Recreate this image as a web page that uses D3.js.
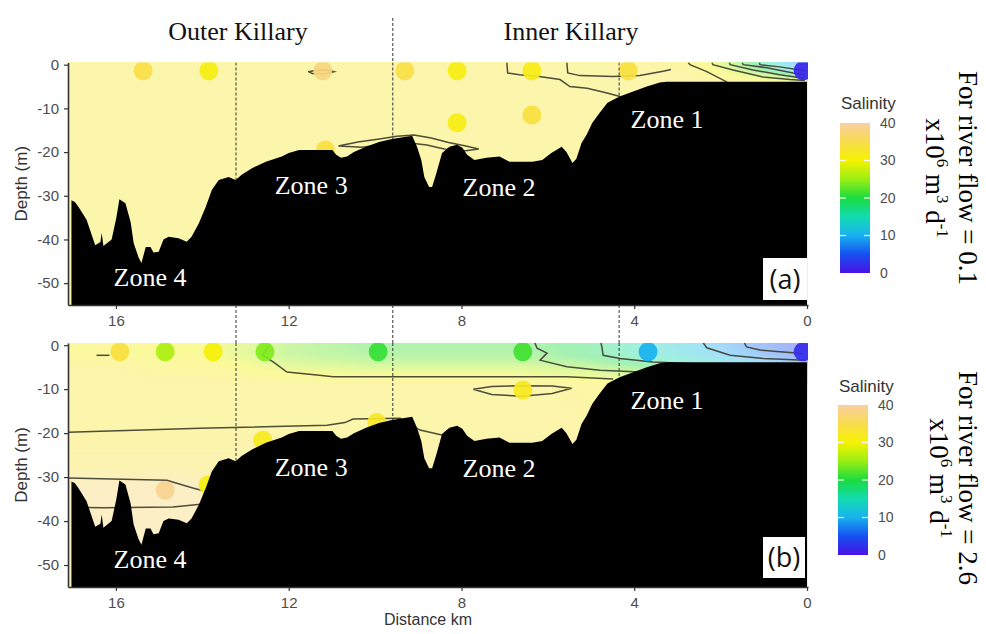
<!DOCTYPE html>
<html><head><meta charset="utf-8">
<script src="https://cdn.jsdelivr.net/npm/d3@7"></script>
<style>body{margin:0;background:#fff}svg{display:block}</style>
</head><body>
<svg id="chart" width="986" height="634"></svg>
<script>
// ================= DATA =================
const xTicks = [16, 12, 8, 4, 0];
const yTicks = [0, -10, -20, -30, -40, -50];
const legendTicks = [40, 30, 20, 10, 0];
const salinityStops  = [0, 5, 10, 15, 20, 25, 30, 35, 40];
const salinityColors = ["#4a12e6", "#1650f0", "#18b2f0", "#12dcb0", "#1adc3e", "#9aee14", "#f6f200", "#f8dc4e", "#f8d0a2"];
const zoneBoundaries = [13.22, 9.59, 4.35];
const regionNames = ["Outer Killary", "Inner Killary"];
const zoneNames = ["Zone 4", "Zone 3", "Zone 2", "Zone 1"];
const flowValues = ["0.1", "2.6"];
const panelLetters = ["(a)", "(b)"];

// bathymetry (distance km, depth m)
const bathyDist  = [17.03, 16.95, 16.87, 16.68, 16.48, 16.36, 16.33, 16.29, 16.10, 15.99, 15.92, 15.78, 15.66, 15.59, 15.48, 15.41, 15.31, 15.20, 15.13, 15.01, 14.90, 14.78, 14.55, 14.36, 14.25, 14.08, 13.92, 13.78, 13.62, 13.39, 13.23, 13.09, 12.85, 12.53, 12.16, 12.00, 11.76, 10.99, 10.90, 10.79, 10.65, 10.49, 10.21, 9.91, 9.61, 9.21, 9.14, 9.03, 8.93, 8.86, 8.75, 8.68, 8.58, 8.45, 8.28, 8.10, 7.98, 7.87, 7.70, 7.42, 7.12, 6.89, 6.36, 6.13, 5.92, 5.68, 5.57, 5.43, 5.34, 5.22, 5.10, 4.97, 4.80, 4.62, 4.34, 4.04, 3.71, 3.41, 3.25, 0.00];
const bathyDepth = [-31.0, -31.4, -32.5, -35.5, -41.3, -40.6, -38.5, -41.5, -40.0, -35.0, -30.8, -31.7, -36.0, -40.8, -44.0, -45.4, -41.7, -41.7, -43.0, -42.8, -40.0, -39.4, -39.7, -40.5, -39.4, -36.3, -32.5, -28.7, -26.4, -25.7, -26.4, -25.2, -23.7, -22.2, -21.0, -20.2, -19.5, -19.5, -20.6, -21.3, -21.0, -20.0, -18.8, -17.7, -17.0, -16.4, -16.3, -18.8, -21.8, -25.7, -28.0, -28.0, -24.8, -20.2, -18.8, -18.3, -19.0, -20.6, -21.8, -21.3, -21.0, -22.2, -22.2, -21.8, -20.2, -18.8, -20.0, -22.5, -21.5, -17.9, -16.0, -13.3, -11.0, -8.7, -7.3, -6.2, -5.0, -4.1, -3.9, -3.9];

// salinity field, panel (a)
const fieldA_dist  = [17.2, 12, 8, 4, 2.8, 2.2, 1.7, 1.2, 0.7, 0.3, 0];
const fieldA_depth = [0.5, -1, -2, -3, -4, -6, -55];
const fieldA_sal = [
  [33, 33, 33, 33, 32, 29, 24, 19, 14, 9, 5],
  [33, 33, 33, 33, 32, 30, 26, 21, 16, 11, 7],
  [33, 33, 33, 33, 33, 31, 29, 25, 21, 17, 13],
  [33, 33, 33, 33, 33, 32, 31, 29, 27, 24, 21],
  [33, 33, 33, 33, 33, 33, 32, 31, 30, 29, 28],
  [33, 33, 33, 33, 33, 33, 33, 33, 33, 33, 33],
  [33, 33, 33, 33, 33, 33, 33, 33, 33, 33, 33]
];
// salinity field, panel (b)
const fieldB_dist  = [17.2, 16, 15, 14, 13, 12, 10, 8, 6.5, 5, 4, 3, 2, 1, 0];
const fieldB_depth = [0.5, -2, -4, -6, -9, -20, -28, -32, -55];
const fieldB_sal = [
  [31, 31, 30, 30, 27, 24, 21, 21, 21, 19, 15, 12, 9, 6, 3],
  [31, 31, 30, 30, 27, 24, 22, 22, 22, 19, 16, 13, 10, 7, 4],
  [32, 32, 31, 31, 29, 26, 24, 24, 24, 22, 19, 16, 13, 10, 7],
  [33, 33, 32, 32, 31, 29, 28, 28, 28, 26, 24, 21, 18, 15, 12],
  [33, 33, 33, 33, 33, 33, 33, 33, 33, 32, 31, 30, 28, 26, 24],
  [33, 33, 33, 33, 33, 33, 33, 33, 33, 33, 33, 33, 33, 33, 33],
  [34, 34, 34, 34, 34, 34, 34, 34, 34, 34, 34, 34, 34, 34, 34],
  [37, 37, 37, 37, 37, 36, 35, 34, 34, 34, 34, 34, 34, 34, 34],
  [37, 37, 37, 37, 37, 36, 35, 34, 34, 34, 34, 34, 34, 34, 34]
];

// stations (measured salinity), panel (a)
const stationsA_dist  = [15.37, 13.85, 11.21, 9.31, 8.10, 6.37, 4.14, 0.09, 8.10, 6.37, 11.15];
const stationsA_depth = [-1.4, -1.4, -1.4, -1.4, -1.4, -1.4, -1.4, -1.4, -13.3, -11.5, -19.5];
const stationsA_sal   = [34.5, 31, 38, 34.5, 31, 31.5, 34, 1.5, 31, 34, 34];
// stations, panel (b)
const stationsB_dist  = [15.91, 14.86, 13.75, 12.55, 9.93, 6.58, 3.68, 0.09, 6.58, 9.96, 12.60, 14.86, 13.87];
const stationsB_depth = [-1.5, -1.5, -1.5, -1.5, -1.5, -1.5, -1.5, -1.5, -10.2, -17.6, -21.6, -33.0, -31.8];
const stationsB_sal   = [34, 26, 30.5, 24, 21, 21.5, 10, 2, 32, 32.5, 32, 39, 31];

// contour lines (distance km, depth m), panel (a)
const contoursA = [
  [[11.55,-1.6],[11.35,-1.25],[11.1,-1.2],[10.95,-1.6],[11.15,-2.1],[11.45,-2.0],[11.55,-1.6]],
  [[10.85,-18.6],[10.4,-17.7],[9.9,-17.0],[9.5,-16.4],[9.1,-16.1],[8.7,-16.8],[8.3,-17.8],[7.9,-18.6],[7.6,-19.3],
   [7.9,-19.7],[8.4,-19.3],[8.8,-18.4],[9.2,-17.9],[9.7,-18.1],[10.3,-18.9],[10.85,-18.6]],
  [[6.95,0.5],[6.93,-1.9],[6.66,-2.3],[6.2,-2.7],[5.72,-3.4],[5.49,-5.0],[5.09,-5.4],[4.63,-6.5],[4.33,-7.3]],
  [[5.56,0.5],[5.54,-1.9],[5.26,-2.5],[4.49,-2.7],[3.87,-2.5],[3.33,-1.5],[3.15,-1.1]],
  [[2.75,0.5],[2.71,0],[2.32,-1.6],[1.85,-4.0]],
  [[2.2,0.5],[2.18,0],[1.71,-1.2],[1.02,-2.8],[0.39,-3.4],[0.05,-3.6]],
  [[1.8,0.5],[1.78,0],[1.25,-1.2],[0.63,-2.3],[0.16,-3.0],[0.05,-3.1]],
  [[1.5,0.5],[1.48,0],[0.93,-0.7],[0.32,-1.9],[0.05,-2.3]],
  [[1.1,0.5],[1.09,0],[0.63,-0.5],[0.16,-1.2],[0.05,-1.4]]
];
// contour lines, panel (b)
const contoursB = [
  [[16.45,-2.3],[16.15,-2.3]],
  [[12.45,-0.2],[12.5,-0.7],[12.6,-2.3],[12.36,-3.8],[12.04,-6.1],[11.35,-6.8],[10.97,-7.2],[8.96,-7.2],[7.11,-7.2],[5.56,-7.2],[4.49,-7.7]],
  [[6.3,0.5],[6.25,-0.7],[6.02,-1.8],[6.18,-3.4],[5.56,-4.9],[4.79,-5.7],[3.87,-6.1]],
  [[4.77,0.5],[4.75,-0.4],[4.72,-2.3],[4.33,-3.0],[3.57,-3.8],[2.48,-4.3]],
  [[2.4,0.5],[2.32,-0.6],[1.78,-2.3],[1.01,-3.0],[0.05,-3.4]],
  [[1.45,0.5],[1.4,-0.4],[1.09,-1.1],[0.63,-1.5],[0.09,-1.9]],
  [[7.73,-10.0],[7.3,-9.4],[6.6,-9.2],[5.9,-9.3],[5.45,-9.8],[5.9,-11.0],[6.6,-11.6],[7.3,-11.2],[7.73,-10.0]],
  [[17.11,-19.8],[14.05,-18.9],[11.11,-18.2],[10.7,-17.6],[10.51,-16.8],[9.42,-16.6],[8.96,-19.3],[8.43,-20.5],[8.2,-21]],
  [[17.11,-30.2],[14.82,-30.7],[14.59,-31.4],[14.22,-32.5],[13.87,-33.4]],
  [[16.7,-36.9],[16.3,-37.0],[14.68,-36.8],[13.98,-36.1]]
];

// ================= LAYOUT =================
const svg = d3.select("#chart");
const plotX = [68, 808];
const x = d3.scaleLinear().domain([17.11, -0.023]).range(plotX);
const depthDomain = [0.5, -55];
const sansFont = "'Liberation Sans', Arial, sans-serif";
const serifFont = "'Liberation Serif', 'Times New Roman', serif";
const axisGrey = "#4d4d4d";

const color = d3.scaleLinear().domain(salinityStops).range(salinityColors)
  .interpolate(d3.interpolateRgb).clamp(true);
const fieldAlpha = 0.4;

const zoneLabelPos = [[15.21, -50.6], [11.48, -29.7], [7.13, -30.0], [3.24, -14.4]];

const panels = [
  { yRange: [62.5, 305], fd: fieldA_dist, fz: fieldA_depth, fs: fieldA_sal,
    sd: stationsA_dist, sz: stationsA_depth, ss: stationsA_sal, contours: contoursA,
    legend: { x: 840, top: 123, bottom: 273, titleY: 109 }, flowY: 178, flowX: [959, 926],
    labelBox: [763, 258, 44, 42], labelBase: 289 },
  { yRange: [343, 587], fd: fieldB_dist, fz: fieldB_depth, fs: fieldB_sal,
    sd: stationsB_dist, sz: stationsB_depth, ss: stationsB_sal, contours: contoursB,
    legend: { x: 838, top: 405, bottom: 555, titleY: 392 }, flowY: 478, flowX: [959, 930],
    labelBox: [763, 537, 42, 41], labelBase: 567 }
];

const defs = svg.append("defs");

// legend gradient (offsets ascending from top = 40 down to 0)
const grad = defs.append("linearGradient").attr("id", "salGrad")
  .attr("x1", 0).attr("y1", 0).attr("x2", 0).attr("y2", 1);
salinityStops.slice().reverse().forEach(s => {
  grad.append("stop").attr("offset", (40 - s) / 40).attr("stop-color", color(s));
});

// dashed zone boundaries (outside panels)
const dashLayer = svg.append("g");

panels.forEach((p, pi) => {
  const y = d3.scaleLinear().domain(depthDomain).range(p.yRange);
  const g = svg.append("g");
  const clipId = "clip" + pi;
  defs.append("clipPath").attr("id", clipId).append("rect")
    .attr("x", plotX[0]).attr("y", p.yRange[0])
    .attr("width", plotX[1] - plotX[0]).attr("height", p.yRange[1] - p.yRange[0]);

  // ---- salinity field raster ----
  const x0 = plotX[0], y0 = Math.floor(p.yRange[0]);
  const w = plotX[1] - plotX[0], h = Math.ceil(p.yRange[1]) - y0;
  const canvas = document.createElement("canvas");
  canvas.width = w; canvas.height = h;
  const ctx = canvas.getContext("2d");
  const img = ctx.createImageData(w, h);
  const di = d3.scaleLinear().domain(p.fd).range(d3.range(p.fd.length)).clamp(true);
  const zi = d3.scaleLinear().domain(p.fz).range(d3.range(p.fz.length)).clamp(true);
  const lut = d3.range(0, 401).map(k => d3.rgb(color(k / 10)));
  for (let py = 0; py < h; py++) {
    const zf = zi(y.invert(y0 + py + 0.5));
    const j0 = Math.floor(zf), j1 = Math.min(j0 + 1, p.fz.length - 1), u = zf - j0;
    for (let px = 0; px < w; px++) {
      const df = di(x.invert(x0 + px + 0.5));
      const i0 = Math.floor(df), i1 = Math.min(i0 + 1, p.fd.length - 1), t = df - i0;
      const top = p.fs[j0][i0] * (1 - t) + p.fs[j0][i1] * t;
      const bot = p.fs[j1][i0] * (1 - t) + p.fs[j1][i1] * t;
      const s = top * (1 - u) + bot * u;
      const c = lut[Math.max(0, Math.min(400, Math.round(s * 10)))];
      const k = (py * w + px) * 4;
      img.data[k] = 255 + fieldAlpha * (c.r - 255);
      img.data[k + 1] = 255 + fieldAlpha * (c.g - 255);
      img.data[k + 2] = 255 + fieldAlpha * (c.b - 255);
      img.data[k + 3] = 255;
    }
  }
  ctx.putImageData(img, 0, 0);
  g.append("image").attr("x", x0).attr("y", y0).attr("width", w).attr("height", h)
    .attr("preserveAspectRatio", "none").attr("href", canvas.toDataURL());

  const inner = g.append("g").attr("clip-path", `url(#${clipId})`);

  // ---- contours ----
  const line = d3.line().x(d => x(d[0])).y(d => y(d[1]));
  inner.selectAll("path.contour").data(p.contours).join("path")
    .attr("class", "contour").attr("d", line)
    .attr("fill", "none").attr("stroke", "#3b3b2c").attr("stroke-width", 1.5)
    .attr("stroke-opacity", 0.9);

  // ---- stations ----
  inner.selectAll("circle").data(d3.range(p.sd.length)).join("circle")
    .attr("cx", i => x(p.sd[i])).attr("cy", i => y(p.sz[i])).attr("r", 9.5)
    .attr("fill", i => color(p.ss[i])).attr("fill-opacity", 0.92);

  // ---- dashed zone boundaries inside panel ----
  inner.selectAll("line.zb").data(zoneBoundaries).join("line")
    .attr("class", "zb").attr("x1", d => x(d)).attr("x2", d => x(d))
    .attr("y1", p.yRange[0]).attr("y2", p.yRange[1])
    .attr("stroke", "#333").attr("stroke-width", 1).attr("stroke-dasharray", "3,2");

  // ---- terrain ----
  const bathy = bathyDist.map((d, i) => [d, bathyDepth[i]]);
  const area = d3.area().x(d => x(d[0])).y0(y(-55)).y1(d => y(d[1]));
  inner.append("path").attr("d", area(bathy)).attr("fill", "#000");

  // ---- zone labels ----
  g.selectAll("text.zone").data(zoneNames).join("text")
    .attr("class", "zone")
    .attr("x", (d, i) => x(zoneLabelPos[i][0]))
    .attr("y", (d, i) => y(zoneLabelPos[i][1]))
    .attr("text-anchor", "middle").attr("fill", "#fff")
    .attr("font-family", serifFont).attr("font-size", 26).text(d => d);

  // ---- panel letter ----
  g.append("rect").attr("x", p.labelBox[0]).attr("y", p.labelBox[1])
    .attr("width", p.labelBox[2]).attr("height", p.labelBox[3]).attr("fill", "#fff");
  g.append("text").attr("x", p.labelBox[0] + p.labelBox[2] / 2).attr("y", p.labelBase)
    .attr("text-anchor", "middle").attr("font-family", "'Open Sans', sans-serif")
    .attr("font-size", 27).attr("fill", "#111").text(panelLetters[pi]);

  // ---- axes ----
  const ay = g.append("g").attr("transform", `translate(${plotX[0]},0)`)
    .call(d3.axisLeft(y).tickValues(yTicks).tickSize(4).tickSizeOuter(0).tickPadding(5)
      .tickFormat(d => String(d)));
  const ax = g.append("g").attr("transform", `translate(0,${p.yRange[1]})`)
    .call(d3.axisBottom(x).tickValues(xTicks).tickSize(4).tickSizeOuter(0).tickPadding(6)
      .tickFormat(d => String(d)));
  [ay, ax].forEach(a => {
    a.select(".domain").attr("stroke", "#333").attr("stroke-width", 1.6);
    a.selectAll(".tick line").attr("stroke", "#333").attr("stroke-width", 1.2);
    a.selectAll(".tick text").attr("fill", axisGrey).attr("font-family", sansFont).attr("font-size", 15);
  });

  g.append("text")
    .attr("transform", `translate(27,${(p.yRange[0] + p.yRange[1]) / 2}) rotate(-90)`)
    .attr("text-anchor", "middle").attr("font-family", sansFont).attr("font-size", 17)
    .attr("fill", "#333").text("Depth (m)");

  // ---- legend ----
  const L = p.legend;
  const ly = d3.scaleLinear().domain([0, 40]).range([L.bottom, L.top]);
  g.append("text").attr("x", L.x + 1).attr("y", L.titleY).attr("font-family", sansFont)
    .attr("font-size", 17).attr("fill", "#333").text("Salinity");
  g.append("rect").attr("x", L.x).attr("y", ly(40)).attr("width", 30)
    .attr("height", ly(0) - ly(40)).attr("fill", "url(#salGrad)");
  g.selectAll("line.lt").data([10, 20, 30]).join("line").attr("class", "lt")
    .attr("x1", L.x).attr("x2", L.x + 6).attr("y1", d => ly(d)).attr("y2", d => ly(d))
    .attr("stroke", "#fff").attr("stroke-width", 1.2);
  g.selectAll("line.rt").data([10, 20, 30]).join("line").attr("class", "rt")
    .attr("x1", L.x + 24).attr("x2", L.x + 30).attr("y1", d => ly(d)).attr("y2", d => ly(d))
    .attr("stroke", "#fff").attr("stroke-width", 1.2);
  g.selectAll("text.lab").data(legendTicks).join("text").attr("class", "lab")
    .attr("x", L.x + 40).attr("y", d => ly(d)).attr("dy", "0.35em")
    .attr("font-family", sansFont).attr("font-size", 14).attr("fill", axisGrey).text(d => d);

  // ---- river flow annotation ----
  svg.append("text").attr("transform", `translate(${p.flowX[0]},${p.flowY}) rotate(90)`)
    .attr("text-anchor", "middle").attr("font-family", serifFont).attr("font-size", 27)
    .attr("fill", "#000").text(`For river flow = ${flowValues[pi]}`);
  const t2 = svg.append("text").attr("transform", `translate(${p.flowX[1]},${p.flowY}) rotate(90)`)
    .attr("text-anchor", "middle").attr("font-family", serifFont).attr("font-size", 27).attr("fill", "#000");
  t2.append("tspan").text("x10");
  t2.append("tspan").attr("dy", -11).attr("font-size", 17).text("6");
  t2.append("tspan").attr("dy", 11).text(" m");
  t2.append("tspan").attr("dy", -11).attr("font-size", 17).text("3");
  t2.append("tspan").attr("dy", 11).text(" d");
  t2.append("tspan").attr("dy", -11).attr("font-size", 17).text("-1");
});

// dashed lines in gap and header
const gapSegs = zoneBoundaries.map(d => [d, 305, 343]);
dashLayer.selectAll("line.gap").data(gapSegs).join("line").attr("class", "gap")
  .attr("x1", d => x(d[0])).attr("x2", d => x(d[0])).attr("y1", d => d[1]).attr("y2", d => d[2])
  .attr("stroke", "#333").attr("stroke-width", 1).attr("stroke-dasharray", "3,2");
dashLayer.append("line").attr("x1", x(zoneBoundaries[1])).attr("x2", x(zoneBoundaries[1]))
  .attr("y1", 18).attr("y2", 62.5).attr("stroke", "#333").attr("stroke-width", 1)
  .attr("stroke-dasharray", "3,2");

// header
const regionCenters = [238, 571];
svg.selectAll("text.region").data(regionNames).join("text").attr("class", "region")
  .attr("x", (d, i) => regionCenters[i]).attr("y", 40).attr("text-anchor", "middle")
  .attr("font-family", serifFont).attr("font-size", 26).attr("fill", "#111").text(d => d);

// x-axis title
svg.append("text").attr("x", 428).attr("y", 625).attr("text-anchor", "middle")
  .attr("font-family", sansFont).attr("font-size", 16).attr("fill", "#333").text("Distance km");
</script>
</body></html>
